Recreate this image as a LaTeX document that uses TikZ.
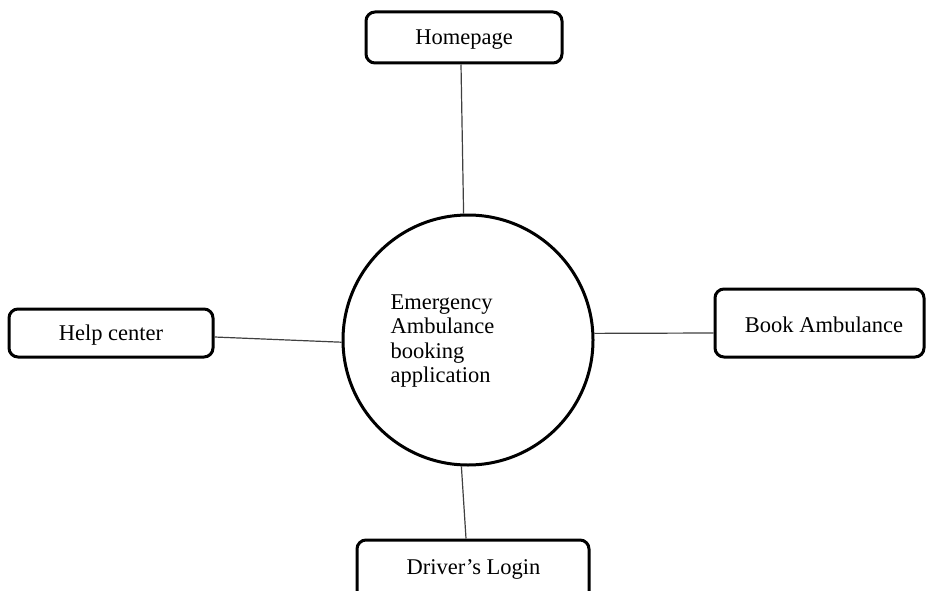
\documentclass[tikz,border=0pt]{standalone}
\usepackage{fontspec}
\setmainfont{Liberation Serif}
\begin{document}
\begin{tikzpicture}[x=1pt,y=-1pt,
  box/.style={draw=black,line width=3pt,rounded corners=9pt,fill=white,inner sep=0pt},
  hub/.style={draw=black,line width=3pt,circle,minimum size=250pt,inner sep=0pt},
  link/.style={draw=black!75,line width=1.2pt},
  lbl/.style={font=\fontsize{22.5}{24.5}\selectfont}]
\useasboundingbox[fill=white] (0,0) rectangle (926,591);
\node[hub] (c) at (468,340) {};
\node[lbl,align=left,anchor=north west] (t) at (387,291) {Emergency\\Ambulance\\booking\\application};
\node[box,minimum width=196pt,minimum height=51pt] (home) at (464,37.5) {};
\node[lbl] (homet) at (464,40) {Homepage};
\node[box,minimum width=209pt,minimum height=68pt] (book) at (819.5,323) {};
\node[lbl] (bookt) at (824,325) {Book Ambulance};
\node[box,minimum width=204pt,minimum height=48pt] (help) at (111,333) {};
\node[lbl] (helpt) at (111,335) {Help center};
\node[box,minimum width=232pt,minimum height=70pt] (drv) at (473,575) {};
\node[lbl] (drvt) at (473.5,569) {Driver’s Login};
\draw[link] ([xshift=-3pt]home.south) -- (c.92);
\draw[link] ([yshift=-4pt]help.east) -- (c.181.8);
\draw[link] (c.3) -- ([yshift=-10pt]book.west);
\draw[link] (c.267) -- ([xshift=-7pt]drv.north);
\end{tikzpicture}
\end{document}
